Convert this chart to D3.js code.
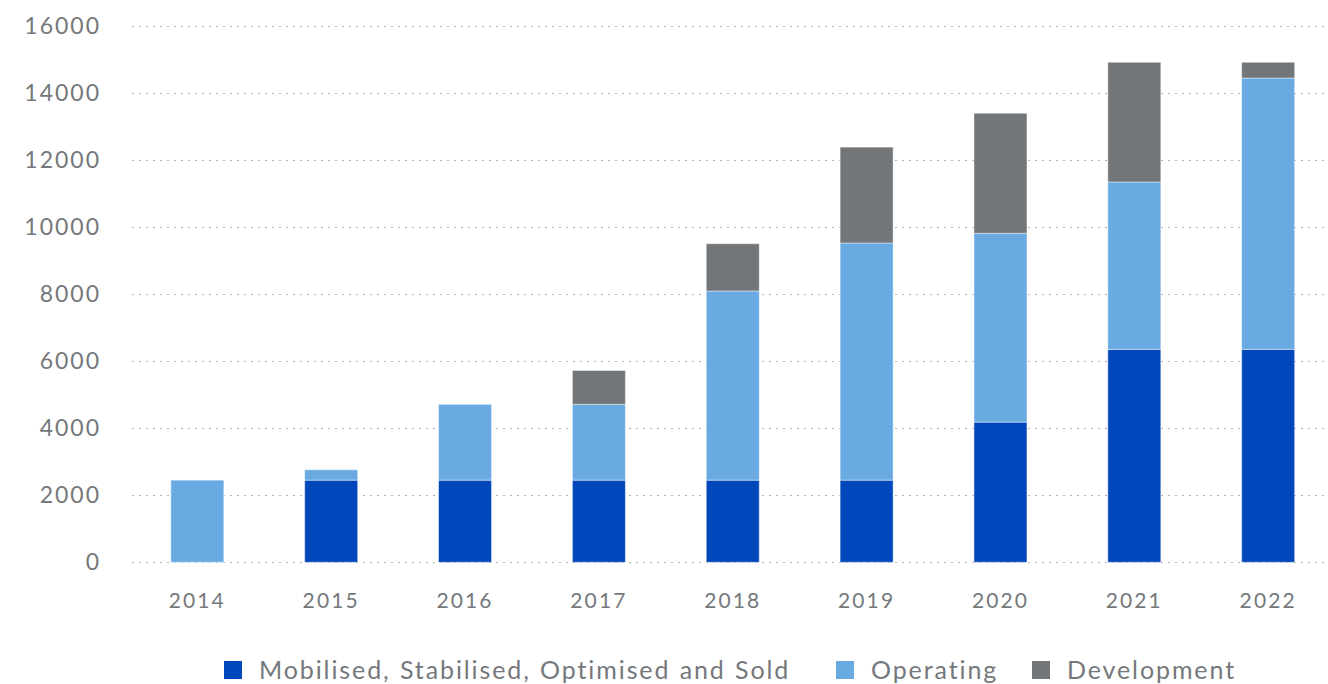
<!DOCTYPE html>
<html>
<head>
<meta charset="utf-8">
<script src="https://cdn.jsdelivr.net/npm/d3@7"></script>
<style>
  body { margin: 0; background: #fff; }
  text { font-family: Lato, "Noto Sans", sans-serif; fill: #75787b; letter-spacing: 2px; }
  .grid line { stroke: #b5b5b5; stroke-dasharray: 2,5; }
</style>
</head>
<body>
<svg width="1328" height="684"></svg>
<script>
// chart values
var years = ["2014", "2015", "2016", "2017", "2018", "2019", "2020", "2021", "2022"];
var mobilised = [0, 2450, 2450, 2450, 2450, 2450, 4180, 6350, 6350];
var operating = [2450, 310, 2260, 2260, 5640, 7070, 5630, 4990, 8090];
var development = [0, 0, 0, 1010, 1410, 2860, 3580, 3570, 470];
var yTicks = [0, 2000, 4000, 6000, 8000, 10000, 12000, 14000, 16000];
var seriesNames = ["Mobilised, Stabilised, Optimised and Sold", "Operating", "Development"];
var seriesColors = ["#0047bb", "#6aaae2", "#737679"];

var svg = d3.select("svg");

// scales
var x = d3.scaleBand()
    .domain(years)
    .range([130.4, 1335.1])
    .paddingInner(0.604)
    .paddingOuter(0.302);

var y = d3.scaleLinear()
    .domain([0, 16000])
    .range([562.3, 25.7]);

// dotted gridlines
svg.append("g").attr("class", "grid")
    .selectAll("line")
    .data(yTicks)
    .enter().append("line")
    .attr("x1", 132).attr("x2", 1328)
    .attr("y1", function(d) { return Math.round(y(d)) + 0.5; })
    .attr("y2", function(d) { return Math.round(y(d)) + 0.5; });

// y axis labels
svg.append("g")
    .attr("transform", "translate(101,0)")
    .call(d3.axisLeft(y).tickValues(yTicks).tickSize(0).tickPadding(0).tickFormat(d3.format("d")))
    .call(function(g) { g.select(".domain").remove(); })
    .selectAll("text")
    .attr("fill", "#75787b")
    .style("font-size", "23px");

// x axis labels
svg.append("g")
    .attr("transform", "translate(0,588.5)")
    .call(d3.axisBottom(x).tickSize(0).tickPadding(0))
    .call(function(g) { g.select(".domain").remove(); })
    .selectAll("text")
    .attr("fill", "#75787b")
    .attr("dy", "0.95em")
    .style("font-size", "21px")
    .style("letter-spacing", "2.1px");

// stacked bars
var table = years.map(function(yr, i) {
    return { year: yr, s0: mobilised[i], s1: operating[i], s2: development[i] };
});
var stack = d3.stack().keys(["s0", "s1", "s2"]);
var layers = stack(table);

svg.append("g").selectAll("g")
    .data(layers)
    .enter().append("g")
    .attr("fill", function(d, i) { return seriesColors[i]; })
    .selectAll("rect")
    .data(function(d) { return d.filter(function(p) { return p[1] > p[0]; }); })
    .enter().append("rect")
    .attr("x", function(d) { return x(d.data.year); })
    .attr("width", x.bandwidth())
    .attr("y", function(d) { return y(d[1]); })
    .attr("height", function(d) { return y(d[0]) - y(d[1]); })
    .attr("stroke", "rgba(255,255,255,0.45)")
    .attr("stroke-width", 1);

// legend
var legendX = [224, 836, 1032];
var legend = svg.append("g").selectAll("g")
    .data(seriesNames)
    .enter().append("g")
    .attr("transform", function(d, i) { return "translate(" + legendX[i] + ",661)"; });
legend.append("rect")
    .attr("width", 18).attr("height", 18)
    .attr("fill", function(d, i) { return seriesColors[i]; });
legend.append("text")
    .attr("x", 35).attr("y", 18)
    .style("font-size", "25px")
    .style("letter-spacing", "1.9px")
    .style("word-spacing", "1px")
    .text(function(d) { return d; });
</script>
</body>
</html>
